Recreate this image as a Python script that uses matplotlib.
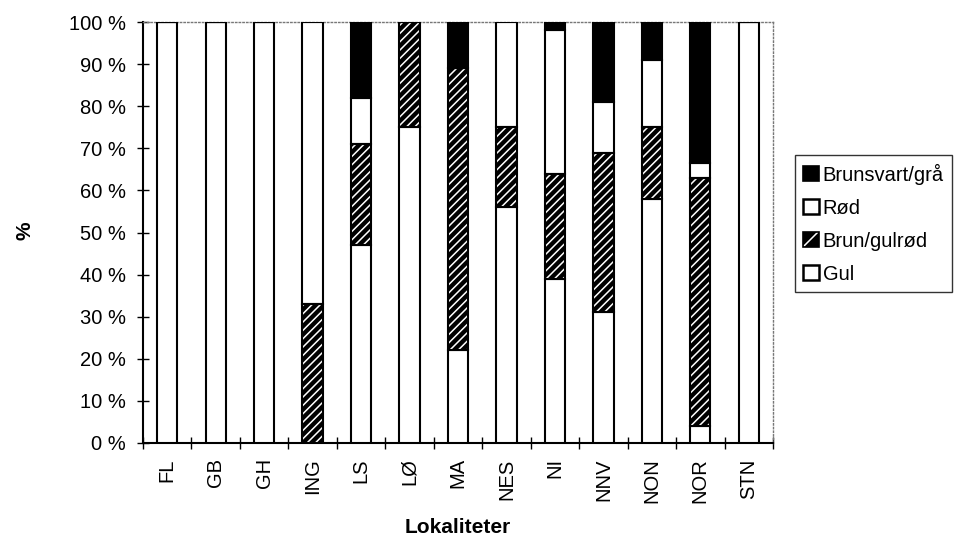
import matplotlib
matplotlib.use("Agg")
import matplotlib.pyplot as plt
from matplotlib.patches import Patch
from matplotlib.legend_handler import HandlerTuple
import numpy as np

plt.rcParams['font.family'] = ['Liberation Sans', 'DejaVu Sans']
plt.rcParams['hatch.linewidth'] = 1.1

categories = ["FL", "GB", "GH", "ING", "LS", "LØ", "MA", "NES", "NI", "NNV", "NON", "NOR", "STN"]
gul = [100, 100, 100, 0, 47, 75, 22, 56, 39, 31, 58, 4, 100]
brun_gulrod = [0, 0, 0, 33, 24, 25, 67, 19, 25, 38, 17, 59, 0]
rod = [0, 0, 0, 67, 11, 0, 0, 25, 34, 12, 16, 3.5, 0]
brunsvart = [0, 0, 0, 0, 18, 0, 11, 0, 2, 19, 9, 33.5, 0]
yticks = [0, 10, 20, 30, 40, 50, 60, 70, 80, 90, 100]
ytick_labels = [f"{v} %" for v in yticks]

FS = 14.5
W, H = 957, 536

fig = plt.figure(figsize=(W/100, H/100), dpi=100)
ax = fig.add_axes([143/W, 1-443/H, 630/W, 421/H])

x = np.arange(len(categories))
w = 0.42
lw = 1.5
g = np.array(gul, float)
b = np.array(brun_gulrod, float)
r = np.array(rod, float)
s = np.array(brunsvart, float)

ax.bar(x, g, w, color='white', edgecolor='black', linewidth=lw, zorder=3)
ax.bar(x, b, w, bottom=g, color='black', edgecolor='white', hatch='////', linewidth=0, zorder=3)
ax.bar(x, b, w, bottom=g, fill=False, edgecolor='black', linewidth=lw, zorder=4)
ax.bar(x, r, w, bottom=g+b, color='white', edgecolor='black', linewidth=lw, zorder=3)
ax.bar(x, s, w, bottom=g+b+r, color='black', edgecolor='black', linewidth=lw, zorder=3)

ax.set_xlim(-0.5, len(categories)-0.5)
ax.set_ylim(0, 100)
ax.set_yticks(yticks)
ax.set_yticklabels(ytick_labels, fontsize=FS)
ax.tick_params(axis='y', direction='inout', length=9, width=1, pad=8)
ax.set_xticks(x)
ax.set_xticklabels(categories, rotation=90, fontsize=FS)
ax.tick_params(axis='x', which='major', length=0, pad=11)
ax.set_xticks(np.arange(-0.5, len(categories)), minor=True)
ax.tick_params(axis='x', which='minor', direction='inout', length=9, width=1)

for sp in ['left', 'bottom']:
    ax.spines[sp].set_linewidth(1.5)
    ax.spines[sp].set_color('black')
for sp in ['top', 'right']:
    ax.spines[sp].set_linestyle(':')
    ax.spines[sp].set_color('#777777')
    ax.spines[sp].set_linewidth(1.0)

fig.text(458/W, 1-533/H, "Lokaliteter", fontsize=15, fontweight='bold',
         ha='center', va='baseline')
fig.text(25/W, 1-231/H, "%", fontsize=15, fontweight='bold',
         ha='center', va='center', rotation=90)

h_black = Patch(facecolor='black', edgecolor='black', linewidth=1.2)
h_rod = Patch(facecolor='white', edgecolor='black', linewidth=1.8)
h_brun = (Patch(facecolor='black', edgecolor='white', hatch='//', linewidth=0),
          Patch(fill=False, edgecolor='black', linewidth=1.2))
h_gul = Patch(facecolor='white', edgecolor='black', linewidth=1.8)

leg = fig.legend([h_black, h_rod, h_brun, h_gul],
                 ["Brunsvart/grå", "Rød", "Brun/gulrød", "Gul"],
                 handler_map={tuple: HandlerTuple(ndivide=1)},
                 loc='upper left', bbox_to_anchor=(795/W, 1-155/H),
                 fontsize=FS, frameon=True, fancybox=False, shadow=False,
                 handlelength=0.75, handleheight=0.75, handletextpad=0.2,
                 labelspacing=0.7, borderpad=0.42, borderaxespad=0)
leg.get_frame().set_edgecolor('black')
leg.get_frame().set_linewidth(1.0)

fig.savefig("out.png", dpi=100)
